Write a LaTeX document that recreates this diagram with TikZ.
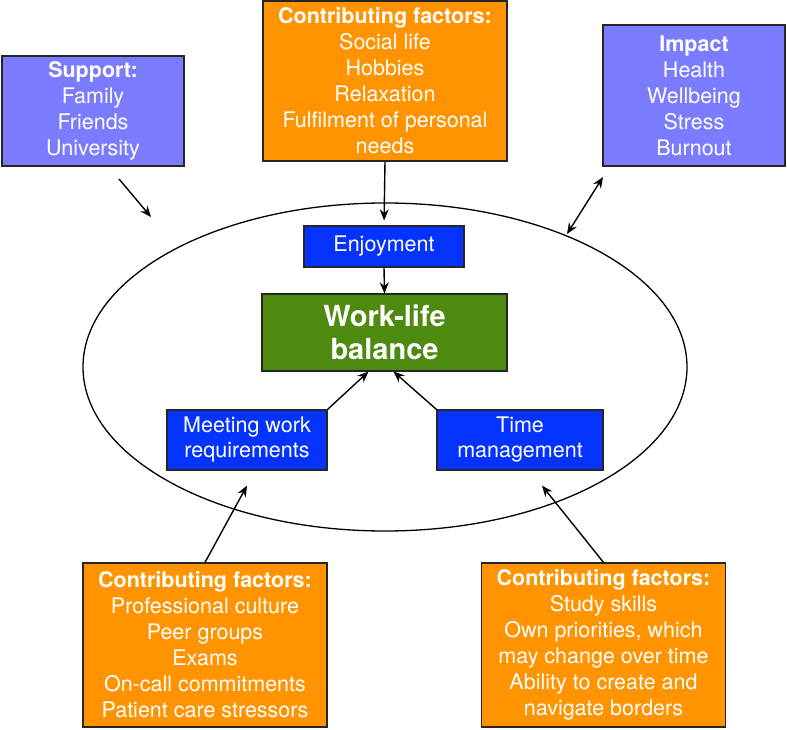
\documentclass[tikz,border=0pt]{standalone}
\usepackage{fontspec}
\setmainfont{TeX Gyre Heros}
\usepackage{tikz}
\usetikzlibrary{arrows.meta,calc}

\definecolor{lavbox}{HTML}{7B7BFF}
\definecolor{orbox}{HTML}{FF9300}
\definecolor{bluebox}{HTML}{0433FF}
\definecolor{greenbox}{HTML}{4F8A10}

\begin{document}
\begin{tikzpicture}[x=1pt,y=-1pt,
    box/.style={draw=black!85,line width=1.2pt,text=white,align=center,inner sep=0pt,
      font=\fontsize{21.5}{26}\selectfont},
    lavender/.style={box,fill=lavbox},
    factors/.style={box,fill=orbox},
    inner/.style={box,fill=bluebox,font=\fontsize{21.5}{25}\selectfont},
    arr/.style={line width=1.4pt,-{Stealth[length=11pt,width=9pt]}},
    twoarr/.style={line width=1.4pt,{Stealth[length=11pt,width=9pt]}-{Stealth[length=11pt,width=9pt]}}]
  \useasboundingbox (0,0) rectangle (787,730);
  \draw[line width=1.3pt] (385,367) ellipse [x radius=302, y radius=164];
  \node[lavender,minimum width=182pt,minimum height=110pt] (support) at (93,111)
    {\textbf{Support:}\\Family\\Friends\\University};
  \node[factors,minimum width=244pt,minimum height=160pt] (topf) at (385,81)
    {\textbf{Contributing factors:}\\Social life\\Hobbies\\Relaxation\\Fulfilment of personal\\needs};
  \node[lavender,minimum width=182pt,minimum height=141pt] (impact) at (694,95.5)
    {\textbf{Impact}\\Health\\Wellbeing\\Stress\\Burnout};
  \node[inner,minimum width=160pt,minimum height=41pt] (enjoy) at (384,246.5) {Enjoyment};
  \node[box,fill=greenbox,minimum width=245pt,minimum height=77pt,
    font=\fontsize{29}{33}\selectfont\bfseries] (wlb) at (384.5,332.5) {Work-life\\balance};
  \node[inner,minimum width=160pt,minimum height=60pt] (meet) at (247,440) {Meeting work\\requirements};
  \node[inner,minimum width=166pt,minimum height=60pt] (time) at (520,440) {Time\\management};
  \node[factors,minimum width=244pt,minimum height=164pt] (blf) at (205,645)
    {\textbf{Contributing factors:}\\Professional culture\\Peer groups\\Exams\\On-call commitments\\Patient care stressors};
  \node[factors,minimum width=244pt,minimum height=164pt] (brf) at (603.5,645)
    {\textbf{Contributing factors:}\\Study skills\\Own priorities, which\\may change over time\\Ability to create and\\navigate borders};
  \coordinate (supfrom) at (119,179);
  \coordinate (supto) at (151,217);
  \coordinate (impfrom) at (567,234);
  \coordinate (impto) at (603,177);
  \draw[arr] (supfrom) -- (supto);
  \draw[twoarr] (impfrom) -- (impto);
  \draw[arr,shorten >=5pt] (topf.south) -- (enjoy.north);
  \draw[arr] (enjoy.south) -- (wlb.north);
  \draw[arr] (meet.north east) -- ([xshift=-16pt]wlb.south);
  \draw[arr] (time.north west) -- ([xshift=9pt]wlb.south);
  \draw[arr] (blf.north) -- ([yshift=-15pt]meet.south);
  \draw[arr] (brf.north) -- ([xshift=22pt,yshift=-15pt]time.south);
\end{tikzpicture}
\end{document}
